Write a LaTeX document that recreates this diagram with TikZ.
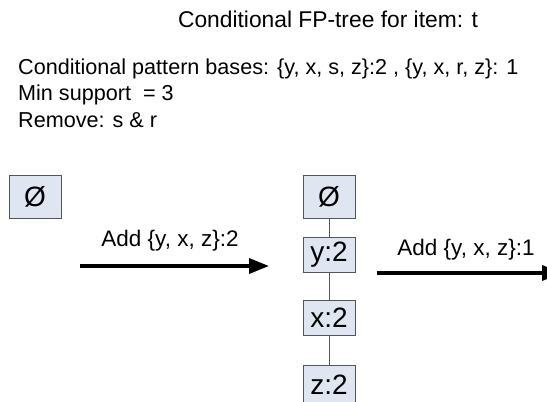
\documentclass[tikz,border=0pt]{standalone}
\usepackage{fontspec}
\setmainfont{Liberation Sans}
\usetikzlibrary{arrows.meta}
\definecolor{boxfill}{HTML}{DFE5F1}
\definecolor{boxline}{HTML}{555555}
\tikzset{
  px/.style={x=1pt,y=-1pt},
  txt/.style={inner sep=0pt,font=\fontsize{21.6}{24}\selectfont,anchor=base west},
  treebox/.style={draw=boxline,fill=boxfill,line width=0.8pt,minimum width=52pt,minimum height=35pt,inner sep=0pt,font=\fontsize{28}{30}\selectfont},
  rootbox/.style={treebox,minimum height=43pt},
  edge/.style={draw=boxline,line width=0.8pt},
  bigarrow/.style={line width=3.5pt,-{Triangle[length=20pt,width=15pt]}},
  lbl/.style={inner sep=0pt,font=\fontsize{22.5}{24}\selectfont,anchor=base}
}
\begin{document}
\begin{tikzpicture}[px]
\useasboundingbox (0,0) rectangle (547,402);
\node[inner sep=0pt,font=\fontsize{22.8}{24}\selectfont,anchor=base] (title) at (328,27) {Conditional FP-tree for item: t};
\node[txt] (l1) at (18,74) {Conditional pattern bases: \{y, x, s, z\}:2 , \{y, x, r, z\}: 1};
\node[txt] (l2) at (18,100) {Min support \ = 3};
\node[txt] (l3) at (18,127) {Remove: s \& r};

\node[rootbox] (r0) at (35,197) {Ø};

\node[rootbox] (r1) at (329,197) {Ø};
\node[treebox] (y1) at (329,254.5) {y:2};
\node[treebox] (x1) at (329,317.5) {x:2};
\node[treebox,minimum height=40pt] (z1) at (329,385) {z:2};
\draw[edge] (r1) -- (y1);
\draw[edge] (y1) -- (x1);
\draw[edge] (x1) -- (z1);

\coordinate (a1s) at (80,266);
\coordinate (a1e) at (269,266);
\draw[bigarrow] (a1s) -- (a1e);
\node[lbl] (al1) at (170,246) {Add \{y, x, z\}:2};

\coordinate (a2s) at (377,273);
\coordinate (a2e) at (562,273);
\draw[bigarrow] (a2s) -- (a2e);
\node[lbl] (al2) at (466,255) {Add \{y, x, z\}:1};
\end{tikzpicture}
\end{document}
